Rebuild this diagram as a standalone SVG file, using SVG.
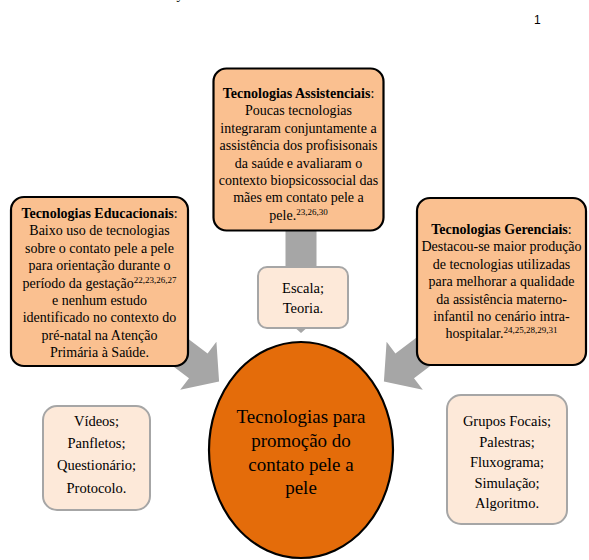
<svg xmlns="http://www.w3.org/2000/svg" width="589" height="560" viewBox="0 0 589 560">
<style>
.t{font-family:"Liberation Serif","Times New Roman",serif;font-size:14px;fill:#000;text-anchor:middle}
.c{font-size:19px}
.s{font-size:14.5px}
.b{font-weight:bold}
.sup{font-size:9px}
.box{fill:#fac090;stroke:#000;stroke-width:2.2}
.sb{fill:#fde9d9;stroke:#a6a6a6;stroke-width:2}
.arr{fill:#a6a6a6}
.pg{font-family:"Liberation Sans",Arial,sans-serif;font-size:12px;fill:#000}
</style>
<rect width="589" height="560" fill="#fff"/>
<text class="t" x="180" y="-1">y</text>
<text class="pg" x="534" y="24">1</text>
<g id="connectors">
<polygon class="arr" points="285.5,220 316.5,220 316.5,307 330.5,307 301,333 271.5,307 285.5,307"/>
<polygon class="arr" points="143.7,305.2 207.6,353.4 216.4,341.8 219.1,381.5 180.2,389.8 189,378.2 125.1,330"/>
<polygon class="arr" points="459.3,305.2 395.4,353.4 386.6,341.8 383.9,381.5 422.8,389.8 414,378.2 477.9,330"/>
</g>
<g id="assistenciais">
<rect class="box" x="213.5" y="68.5" width="170" height="162" rx="13"/>
<text class="t"><tspan x="298.5" y="98"><tspan class="b">Tecnologias Assistenciais</tspan>:</tspan><tspan x="298.5" y="115.4">Poucas tecnologias</tspan><tspan x="298.5" y="132.8">integraram conjuntamente a</tspan><tspan x="298.5" y="150.2">assistência dos profisisonais</tspan><tspan x="298.5" y="167.6">da saúde e avaliaram o</tspan><tspan x="298.5" y="185">contexto biopsicossocial das</tspan><tspan x="298.5" y="202.4">mães em contato pele a</tspan><tspan x="298.5" y="219.8">pele.<tspan class="sup" dy="-5">23,26,30</tspan></tspan></text>
</g>
<g id="educacionais">
<rect class="box" x="11" y="197" width="177" height="169" rx="13"/>
<text class="t"><tspan x="99.5" y="218"><tspan class="b">Tecnologias Educacionais</tspan>:</tspan><tspan x="99.5" y="235.4">Baixo uso de tecnologias</tspan><tspan x="99.5" y="252.8">sobre o contato pele a pele</tspan><tspan x="99.5" y="270.2">para orientação durante o</tspan><tspan x="99.5" y="287.6">período da gestação<tspan class="sup" dy="-5">22,23,26,27</tspan></tspan><tspan x="99.5" y="305">e nenhum estudo</tspan><tspan x="99.5" y="322.4">identificado no contexto do</tspan><tspan x="99.5" y="339.8">pré-natal na Atenção</tspan><tspan x="99.5" y="357.2">Primária à Saúde.</tspan></text>
</g>
<g id="gerenciais">
<rect class="box" x="417" y="198" width="169" height="167" rx="13"/>
<text class="t"><tspan x="501.5" y="234"><tspan class="b">Tecnologias Gerenciais</tspan>:</tspan><tspan x="501.5" y="251.4">Destacou-se maior produção</tspan><tspan x="501.5" y="268.8">de tecnologias utilizadas</tspan><tspan x="501.5" y="286.2">para melhorar a qualidade</tspan><tspan x="501.5" y="303.6">da assistência materno-</tspan><tspan x="501.5" y="321">infantil no cenário intra-</tspan><tspan x="501.5" y="338.4">hospitalar.<tspan class="sup" dy="-5">24,25,28,29,31</tspan></tspan></text>
</g>
<g id="escala">
<rect class="sb" x="258" y="267" width="90" height="61" rx="9"/>
<text class="t s"><tspan x="303" y="293">Escala;</tspan><tspan x="303" y="313">Teoria.</tspan></text>
</g>
<g id="centro">
<ellipse cx="301" cy="450" rx="92" ry="108" fill="#e46c0a" stroke="#000" stroke-width="2.2"/>
<text class="t c"><tspan x="301" y="423">Tecnologias para</tspan><tspan x="301" y="447">promoção do</tspan><tspan x="301" y="471">contato pele a</tspan><tspan x="301" y="494">pele</tspan></text>
</g>
<g id="educacionais-itens">
<rect class="sb" x="43" y="406" width="107" height="104" rx="14"/>
<text class="t s"><tspan x="96.5" y="426">Vídeos;</tspan><tspan x="96.5" y="448">Panfletos;</tspan><tspan x="96.5" y="470">Questionário;</tspan><tspan x="96.5" y="493">Protocolo.</tspan></text>
</g>
<g id="gerenciais-itens">
<rect class="sb" x="447" y="395" width="120" height="129" rx="14"/>
<text class="t s"><tspan x="507" y="426">Grupos Focais;</tspan><tspan x="507" y="446.5">Palestras;</tspan><tspan x="507" y="467">Fluxograma;</tspan><tspan x="507" y="487.5">Simulação;</tspan><tspan x="507" y="508">Algoritmo.</tspan></text>
</g>
</svg>
